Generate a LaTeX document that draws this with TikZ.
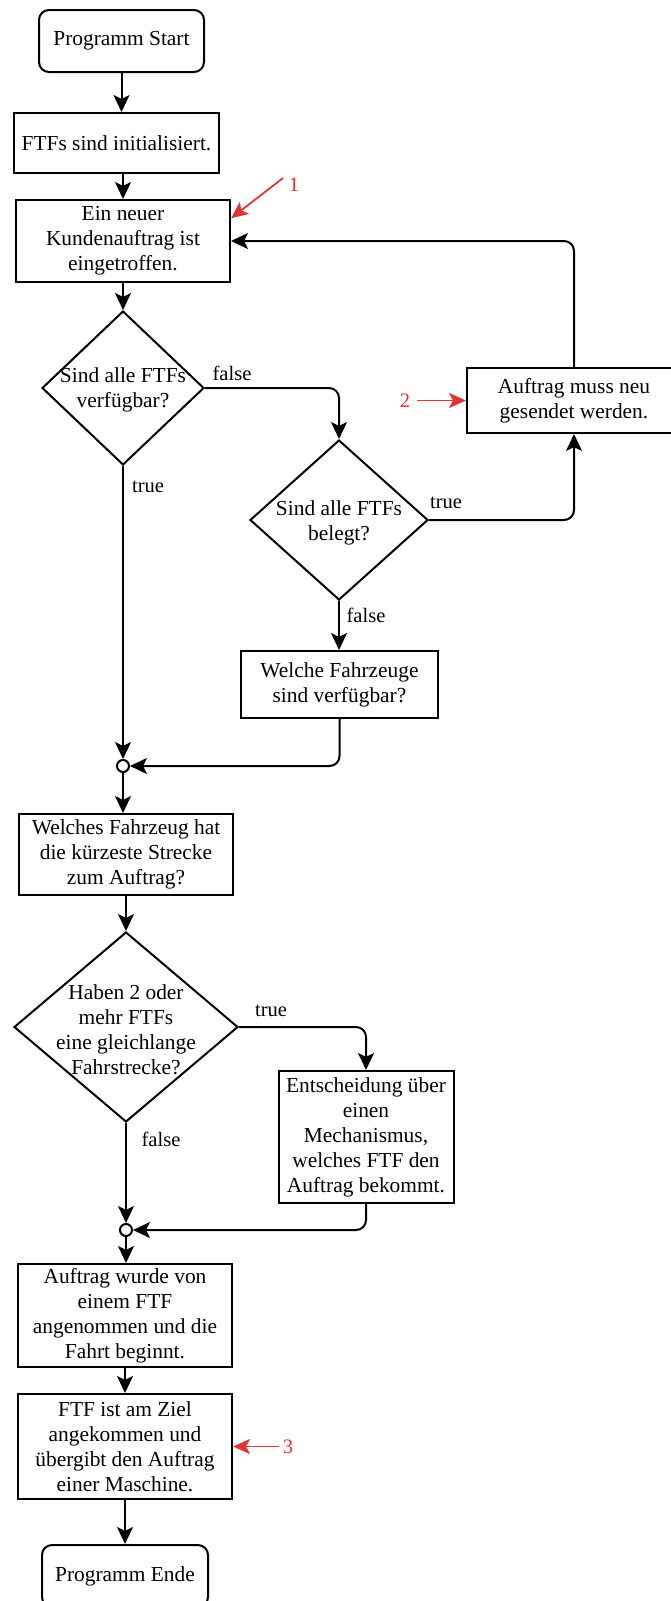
\documentclass[tikz,border=0pt]{standalone}
\usepackage{fontspec}
\setmainfont{Liberation Serif}
\usetikzlibrary{shapes.geometric,arrows.meta,calc}
\definecolor{annot}{RGB}{226,52,52}

\begin{document}
\begin{tikzpicture}[x=1pt,y=-1pt,
  every node/.style={font=\rmfamily\fontsize{21.4}{25}\selectfont},
  flow/.style={draw, line width=2pt, rounded corners=10pt,
    -{Stealth[length=17pt,width=16pt,inset=4pt]}},
  procbox/.style={draw, line width=2pt, rectangle, align=center, inner sep=0pt},
  termbox/.style={procbox, rounded corners=10pt},
  decbox/.style={draw, line width=2pt, diamond, inner sep=0pt},
  dectext/.style={align=center, inner sep=0pt},
  junction/.style={draw, circle, line width=2pt, fill=white, minimum size=12pt, inner sep=0pt},
  edgelabel/.style={font=\rmfamily\fontsize{20.5}{24}\selectfont, inner sep=0pt},
  note/.style={draw=annot, line width=1.8pt, -{Stealth[length=17pt,width=15pt,inset=4pt]}},
  notelabel/.style={text=annot, font=\rmfamily\fontsize{20.5}{24}\selectfont, inner sep=0pt}
]
\path[use as bounding box, fill=white] (0,0) rectangle (670,1601);

% main column
\node[termbox, minimum width=165pt, minimum height=62pt] (start) at (121.5,41) {Programm Start};
\node[procbox, minimum width=205pt, minimum height=60pt] (init) at (116.5,143) {FTFs sind initialisiert.};
\node[procbox, minimum width=214pt, minimum height=82pt] (order) at (123,241) {Ein neuer\\Kundenauftrag ist\\eingetroffen.};
\node[decbox, minimum width=162pt, minimum height=154pt] (d1) at (123,388) {};
\node[dectext] (d1t) at (123,390) {Sind alle FTFs\\verfügbar?};

% right branch
\node[procbox, minimum width=214pt, minimum height=65pt] (resend) at (574,400.5) {Auftrag muss neu\\gesendet werden.};
\node[decbox, minimum width=178pt, minimum height=160pt] (d2) at (339,520) {};
\node[dectext] (d2t) at (339,523) {Sind alle FTFs\\belegt?};
\node[procbox, minimum width=197pt, minimum height=67pt] (avail) at (339.5,684.5) {Welche Fahrzeuge\\sind verfügbar?};

\node[junction] (m1) at (123,766) {};
\node[procbox, minimum width=214pt, minimum height=81pt] (shortest) at (126,854.5) {Welches Fahrzeug hat\\die kürzeste Strecke\\zum Auftrag?};
\node[decbox, minimum width=224pt, minimum height=190pt] (d3) at (126,1027) {};
\node[dectext] (d3t) at (126,1030) {Haben 2 oder\\mehr FTFs\\eine gleichlange\\Fahrstrecke?};
\node[procbox, minimum width=175pt, minimum height=132pt] (mech) at (366,1137) {Entscheidung über\\einen\\Mechanismus,\\welches FTF den\\Auftrag bekommt.};
\node[junction] (m2) at (126,1230) {};
\node[procbox, minimum width=214pt, minimum height=103pt] (accept) at (125,1315.5) {Auftrag wurde von\\einem FTF\\angenommen und die\\Fahrt beginnt.};
\node[procbox, minimum width=214pt, minimum height=105pt] (arrive) at (125,1446.5) {FTF ist am Ziel\\angekommen und\\übergibt den Auftrag\\einer Maschine.};
\node[termbox, minimum width=166pt, minimum height=62pt] (end) at (125,1576) {Programm Ende};

% connectors
\draw[flow] (start.south) -- (start.south |- init.north);
\draw[flow] (init.south -| order.north) -- (order.north);
\draw[flow] (order.south) -- (d1.north);
\draw[flow] (d1.east) -| (d2.north);
\draw[flow] (d1.south) -- (m1.north);
\draw[flow] (d2.east) -| (resend.south);
\draw[flow] (resend.north) |- (order.east);
\draw[flow] (d2.south) -- (d2.south |- avail.north);
\draw[flow] (avail.south) |- (m1.east);
\draw[flow] (m1.south) -- (m1.south |- shortest.north);
\draw[flow] (shortest.south -| d3.north) -- (d3.north);
\draw[flow] (d3.east) -| (mech.north);
\draw[flow] (d3.south) -- (m2.north);
\draw[flow] (mech.south) |- (m2.east);
\draw[flow] (m2.south) -- (m2.south |- accept.north);
\draw[flow] (accept.south) -- (arrive.north);
\draw[flow] (arrive.south) -- (end.north);

% branch labels
\node[edgelabel] (lf1) at (232,373) {false};
\node[edgelabel] (lt1) at (148,487) {true};
\node[edgelabel] (lt2) at (446,503) {true};
\node[edgelabel] (lf2) at (366,615) {false};
\node[edgelabel] (lt3) at (271,1011) {true};
\node[edgelabel] (lf3) at (161,1139) {false};

% numbered markers
\node[notelabel] (n1) at (294,185) {1};
\coordinate (a1) at (283,178);
\draw[note] (a1) -- ($(order.north east)!0.23!(order.south east)$);
\node[notelabel] (n2) at (405,400.5) {2};
\draw[note] ([xshift=7pt]n2.east) -- (resend.west);
\node[notelabel] (n3) at (288,1447) {3};
\draw[note] ([xshift=-4pt]n3.west |- arrive.east) -- (arrive.east);
\end{tikzpicture}
\end{document}
